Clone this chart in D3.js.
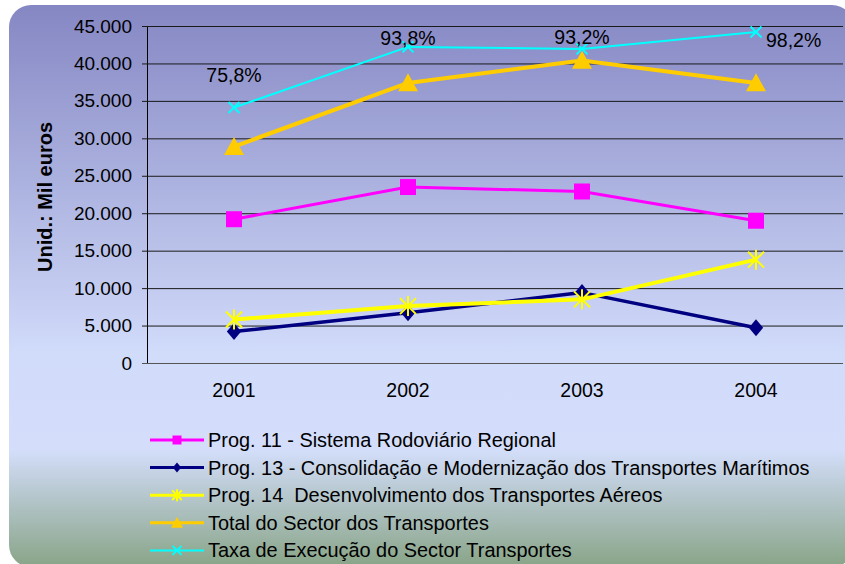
<!DOCTYPE html>
<html lang="pt">
<head>
  <meta charset="UTF-8" />
  <title>Transportes</title>
  <script src="https://d3js.org/d3.v7.min.js"></script>
  <style>
    body { margin: 0; background: #fff; }
    svg text { font-family: "Liberation Sans", Arial, sans-serif; fill: #000; }
    .legend text { font-size: 19.9px; white-space: pre; }
  </style>
</head>
<body>
  <svg id="chart" width="845" height="564"></svg>
  <script>
    // data
    const years = ["2001", "2002", "2003", "2004"];
    const prog11 = [19200, 23500, 22900, 19000];
    const prog13 = [4200, 6700, 9400, 4700];
    const prog14 = [5800, 7600, 8500, 13800];
    const totalSector = [28900, 37400, 40400, 37400];
    const taxaExecucao = [75.8, 93.8, 93.2, 98.2];
    const yTicks = [0, 5000, 10000, 15000, 20000, 25000, 30000, 35000, 40000, 45000];
    const seriesNames = [
      "Prog. 11 - Sistema Rodoviário Regional",
      "Prog. 13 - Consolidação e Modernização dos Transportes Marítimos",
      "Prog. 14  Desenvolvimento dos Transportes Aéreos",
      "Total do Sector dos Transportes",
      "Taxa de Execução do Sector Transportes"
    ];

    const svg = d3.select("#chart");
    const margin = { left: 147, top: 26, right: 2 };
    const plotW = 845 - margin.left - margin.right;
    const plotH = 363 - margin.top;

    // background
    const defs = svg.append("defs");
    const grad = defs.append("linearGradient")
      .attr("id", "bg")
      .attr("x1", 0).attr("y1", 0).attr("x2", 0).attr("y2", 1);
    grad.append("stop").attr("offset", 0).attr("stop-color", "#8587c3");
    grad.append("stop").attr("offset", 0.62).attr("stop-color", "#d1dbfa");
    grad.append("stop").attr("offset", 0.79).attr("stop-color", "#d4defb");
    grad.append("stop").attr("offset", 1).attr("stop-color", "#88a487");

    svg.append("rect")
      .attr("x", 9).attr("y", 5)
      .attr("width", 845).attr("height", 562)
      .attr("rx", 22).attr("ry", 22)
      .attr("fill", "url(#bg)");

    const x = d3.scalePoint().domain(years).range([0, plotW]).padding(0.5);
    const y = d3.scaleLinear().domain([0, 45000]).range([plotH, 0]);
    const y2 = d3.scaleLinear().domain([0, 100]).range([plotH, 0]);

    const g = svg.append("g").attr("transform", `translate(${margin.left},${margin.top})`);

    // y axis with grid lines
    const yAxis = g.append("g")
      .call(d3.axisLeft(y)
        .tickValues(yTicks)
        .tickSizeInner(-plotW)
        .tickSizeOuter(0)
        .tickPadding(15)
        .tickFormat(d => d3.format(",")(d).replace(/,/g, ".")));
    yAxis.select(".domain").attr("stroke", "#000").attr("stroke-width", 1);
    yAxis.selectAll(".tick line")
      .attr("x1", -5)
      .attr("stroke", d => d === 0 ? "#555" : "#1a1a1a")
      .attr("stroke-width", 1);
    yAxis.selectAll(".tick text")
      .style("font-size", "19px")
      .attr("fill", "#000");

    // x labels
    g.append("g").selectAll("text")
      .data(years)
      .join("text")
      .attr("x", d => x(d))
      .attr("y", plotH + 34)
      .attr("text-anchor", "middle")
      .style("font-size", "19.5px")
      .text(d => d);

    // axis title
    svg.append("text")
      .attr("transform", "translate(45,197) rotate(-90)")
      .attr("text-anchor", "middle")
      .attr("dominant-baseline", "central")
      .style("font-size", "20px")
      .style("font-weight", "bold")
      .text("Unid.: Mil euros");

    // markers
    function drawMarker(sel, type, color, s) {
      if (type === "square") {
        sel.append("rect").attr("x", -s / 2).attr("y", -s / 2)
          .attr("width", s).attr("height", s).attr("fill", color);
      } else if (type === "diamond") {
        sel.append("path")
          .attr("d", `M0,${-s / 2}L${s * 0.42},0L0,${s / 2}L${-s * 0.42},0Z`)
          .attr("fill", color);
      } else if (type === "triangle") {
        sel.append("path")
          .attr("d", `M0,${-s * 0.48}L${s / 2},${s * 0.42}L${-s / 2},${s * 0.42}Z`)
          .attr("fill", color);
      } else if (type === "star") {
        const r = s / 2;
        sel.append("path")
          .attr("d", `M0,${-r}V${r}M${-r * 0.8},${-r * 0.8}L${r * 0.8},${r * 0.8}M${r * 0.8},${-r * 0.8}L${-r * 0.8},${r * 0.8}`)
          .attr("stroke", color).attr("stroke-width", 2).attr("fill", "none");
      } else if (type === "cross") {
        const r = s / 2;
        sel.append("path")
          .attr("d", `M${-r},${-r}L${r},${r}M${r},${-r}L${-r},${r}`)
          .attr("stroke", color).attr("stroke-width", 2).attr("fill", "none");
      }
    }

    const series = [
      { name: seriesNames[3], values: totalSector, scale: y, color: "#ffcc00", width: 4, marker: "triangle", size: 20, lsize: 12 },
      { name: seriesNames[0], values: prog11, scale: y, color: "#ff00ff", width: 3, marker: "square", size: 16, lsize: 9 },
      { name: seriesNames[1], values: prog13, scale: y, color: "#000080", width: 3.5, marker: "diamond", size: 17, lsize: 10 },
      { name: seriesNames[2], values: prog14, scale: y, color: "#ffff00", width: 4, marker: "star", size: 20, lsize: 12 },
      { name: seriesNames[4], values: taxaExecucao, scale: y2, color: "#00ffff", width: 2, marker: "cross", size: 11, lsize: 9 }
    ];

    const line = (scale) => d3.line().x((d, i) => x(years[i])).y(d => scale(d));

    series.forEach(s => {
      g.append("path")
        .datum(s.values)
        .attr("d", line(s.scale))
        .attr("fill", "none")
        .attr("stroke", s.color)
        .attr("stroke-width", s.width)
        .attr("stroke-linejoin", "round");
      g.append("g").selectAll("g")
        .data(s.values)
        .join("g")
        .attr("transform", (d, i) => `translate(${x(years[i])},${s.scale(d)})`)
        .each(function () { drawMarker(d3.select(this), s.marker, s.color, s.size); });
    });

    // percentage labels for the execution rate
    const labelOffsets = [[0, -26], [0, -2], [0, -5], [10, 15]];
    const labelAnchors = ["middle", "middle", "middle", "start"];
    g.append("g").selectAll("text")
      .data(taxaExecucao)
      .join("text")
      .attr("x", (d, i) => x(years[i]) + labelOffsets[i][0])
      .attr("y", (d, i) => y2(d) + labelOffsets[i][1])
      .attr("text-anchor", (d, i) => labelAnchors[i])
      .style("font-size", "19.5px")
      .text(d => d3.format(".1f")(d).replace(".", ",") + "%");

    // legend
    const legendOrder = [1, 2, 3, 0, 4];
    const legend = svg.append("g").attr("class", "legend")
      .attr("transform", "translate(150,440)");
    legendOrder.forEach((k, i) => {
      const s = series[k];
      const row = legend.append("g").attr("transform", `translate(0,${i * 27.6})`);
      row.append("line")
        .attr("x1", 0).attr("x2", 54)
        .attr("stroke", s.color).attr("stroke-width", s.width > 2 ? 3 : 2);
      drawMarker(row.append("g").attr("transform", "translate(27,0)"), s.marker, s.color, s.lsize);
      row.append("text")
        .attr("x", 58)
        .attr("dy", "0.35em")
        .text(s.name);
    });
  </script>
</body>
</html>
